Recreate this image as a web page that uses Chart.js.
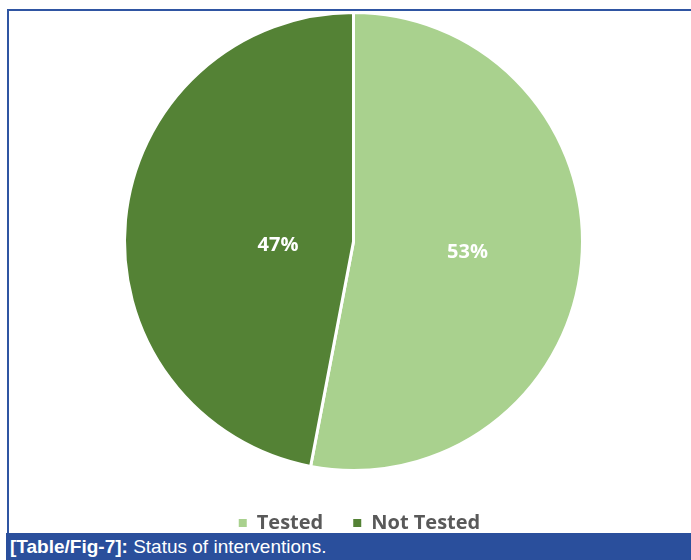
<!DOCTYPE html>
<html>
<head>
<meta charset="utf-8">
<script src="https://cdn.jsdelivr.net/npm/chart.js@4"></script>
<style>
  html, body { margin: 0; padding: 0; background: #fff; }
  body { width: 691px; height: 560px; position: relative; overflow: hidden; }
  #chart { position: absolute; left: 0; top: 0; }
  .frame-top { position: absolute; left: 7px; top: 9px; width: 684px; height: 2px; background: #2f55a2; }
  .frame-left { position: absolute; left: 7px; top: 9px; width: 2px; height: 524px; background: #2f55a2; }
  .caption {
    position: absolute; left: 6px; top: 533px; width: 685px; height: 27px;
    background: #2a4f9c; color: #fff;
    font-family: "Liberation Sans", Arial, sans-serif; font-size: 19px;
    line-height: 28px; padding-left: 4px; box-sizing: border-box; white-space: nowrap;
  }
  .caption b { font-weight: bold; }
</style>
</head>
<body>
<canvas id="chart" width="691" height="560"></canvas>
<div class="frame-top"></div>
<div class="frame-left"></div>
<div class="caption"><b>[Table/Fig-7]:</b> Status of interventions.</div>

<script>
const categories = ['Tested', 'Not Tested'];
const shares = [53, 47];
const sliceColors = ['#a9d18e', '#548235'];
// where each percentage label sits: fraction of radius, and a small turn (degrees) off the slice middle
const labelDepth = [0.5, 0.33];
const labelTurn = [0, -8];

const pctLabels = {
    id: 'pctLabels',
    afterDatasetsDraw(chart) {
        const ctx = chart.ctx;
        const meta = chart.getDatasetMeta(0);
        ctx.save();
        ctx.fillStyle = '#ffffff';
        ctx.font = 'bold 20px "Open Sans"';
        ctx.textAlign = 'center';
        ctx.textBaseline = 'middle';
        meta.data.forEach((arc, i) => {
            const { x, y, startAngle, endAngle, outerRadius } = arc.getProps(['x', 'y', 'startAngle', 'endAngle', 'outerRadius']);
            const mid = (startAngle + endAngle) / 2 + labelTurn[i] * Math.PI / 180;
            const r = outerRadius * labelDepth[i];
            ctx.fillText(shares[i] + '%', x + Math.cos(mid) * r, y + Math.sin(mid) * r);
        });
        ctx.restore();
    }
};

// legend sits a little right of the pie centre in the original
const nudgeLegend = {
    id: 'nudgeLegend',
    afterLayout(chart) {
        chart.legend.left += 6;
        chart.legend.right += 6;
    }
};

new Chart(document.getElementById('chart'), {
    type: 'pie',
    data: {
        labels: categories,
        datasets: [{
            data: shares,
            backgroundColor: sliceColors,
            borderColor: '#ffffff',
            borderWidth: 3,
            radius: 229
        }]
    },
    options: {
        responsive: false,
        animation: false,
        layout: { padding: { left: 16, top: 0, right: 0, bottom: 17 } },
        plugins: {
            tooltip: { enabled: false },
            legend: {
                position: 'bottom',
                labels: {
                    boxWidth: 8,
                    boxHeight: 8,
                    padding: 30,
                    color: '#595959',
                    font: { family: '"Open Sans"', size: 20, weight: 'bold' },
                    generateLabels(chart) {
                        const items = Chart.overrides.pie.plugins.legend.labels.generateLabels(chart);
                        items.forEach(it => { it.lineWidth = 0; });
                        return items;
                    }
                }
            }
        }
    },
    plugins: [pctLabels, nudgeLegend]
});
</script>
</body>
</html>
